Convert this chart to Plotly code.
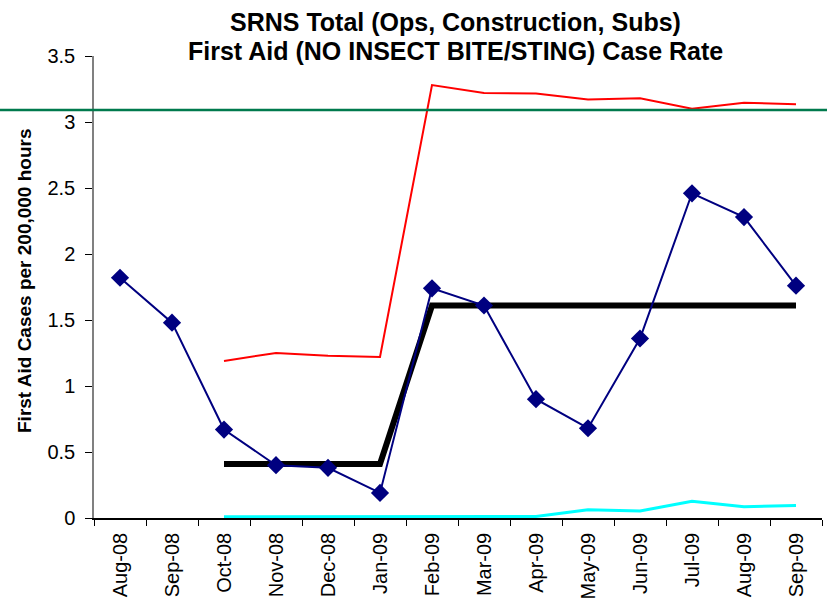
import plotly.graph_objects as go

months = ["Aug-08", "Sep-08", "Oct-08", "Nov-08", "Dec-08", "Jan-09", "Feb-09",
          "Mar-09", "Apr-09", "May-09", "Jun-09", "Jul-09", "Aug-09", "Sep-09"]
case_rate = [1.82, 1.48, 0.67, 0.40, 0.38, 0.19, 1.74, 1.61, 0.90, 0.68, 1.36, 2.46, 2.28, 1.76]
ucl = [None, None, 1.19, 1.25, 1.23, 1.22, 3.28, 3.22, 3.215, 3.17, 3.18, 3.10, 3.145, 3.135]
mean_line = [None, None, 0.41, 0.41, 0.41, 0.41, 1.61, 1.61, 1.61, 1.61, 1.61, 1.61, 1.61, 1.61]
lcl = [None, None, 0.01, 0.01, 0.01, 0.01, 0.01, 0.012, 0.012, 0.063, 0.053, 0.126, 0.085, 0.095]
goal = 3.09

W, H = 827, 603
ml, mr, mt, mb = 94, 5, 56, 85
pw = W - ml - mr
ph = H - mt - mb

fig = go.Figure()
fig.add_trace(go.Scatter(x=months, y=ucl, mode="lines", line=dict(color="#FF0000", width=2),
                         connectgaps=False, showlegend=False))
fig.add_trace(go.Scatter(x=months, y=lcl, mode="lines", line=dict(color="#00FFFF", width=3),
                         showlegend=False))
fig.add_trace(go.Scatter(x=months, y=mean_line, mode="lines", line=dict(color="#000000", width=6),
                         showlegend=False))
fig.add_trace(go.Scatter(x=months, y=case_rate, mode="lines+markers",
                         line=dict(color="#000080", width=2),
                         marker=dict(symbol="diamond", size=14, color="#000080"),
                         showlegend=False))

fig.add_shape(type="line", xref="paper", yref="y", x0=-ml / pw, x1=(pw + mr) / pw,
              y0=goal, y1=goal, line=dict(color="#007A4D", width=2.5), layer="above")

font = "Liberation Sans, Arial, sans-serif"
fig.add_annotation(text="<b>SRNS Total (Ops, Construction, Subs)</b>", xref="paper", yref="paper",
                   x=0.497, y=1 + (mt - 22) / ph, showarrow=False,
                   font=dict(family=font, size=25, color="black"), yanchor="middle")
fig.add_annotation(text="<b>First Aid (NO INSECT BITE/STING) Case Rate</b>", xref="paper", yref="paper",
                   x=0.497, y=1 + (mt - 51) / ph, showarrow=False,
                   font=dict(family=font, size=25, color="black"), yanchor="middle")
fig.add_annotation(text="<b>First Aid Cases per 200,000 hours</b>", xref="paper", yref="paper",
                   x=-(ml - 24) / pw, y=1 - (281 - mt) / ph, textangle=-90, showarrow=False,
                   font=dict(family=font, size=19, color="black"), xanchor="center", yanchor="middle")

fig.update_layout(
    width=W, height=H,
    margin=dict(l=ml, r=mr, t=mt, b=mb),
    plot_bgcolor="white", paper_bgcolor="white",
    font=dict(family=font, size=20, color="black"),
    xaxis=dict(type="category", showgrid=False, showline=True, linecolor="black", linewidth=1.5,
               ticks="outside", ticklen=6, tickcolor="black", tickson="boundaries",
               tickangle=-90, tickfont=dict(size=20), range=[-0.5, 13.5], automargin=False,
               ticklabelstandoff=5),
    yaxis=dict(range=[0, 3.5], dtick=0.5, showgrid=False, showline=True, linecolor="#808080",
               linewidth=1.5, ticks="outside", ticklen=7, tickcolor="black",
               tickfont=dict(size=20), zeroline=False, automargin=False, ticklabelstandoff=6),
)

fig.write_html("out.html", config={"displayModeBar": False},
               post_script="document.body.style.margin='0px';document.body.style.padding='0px';")
